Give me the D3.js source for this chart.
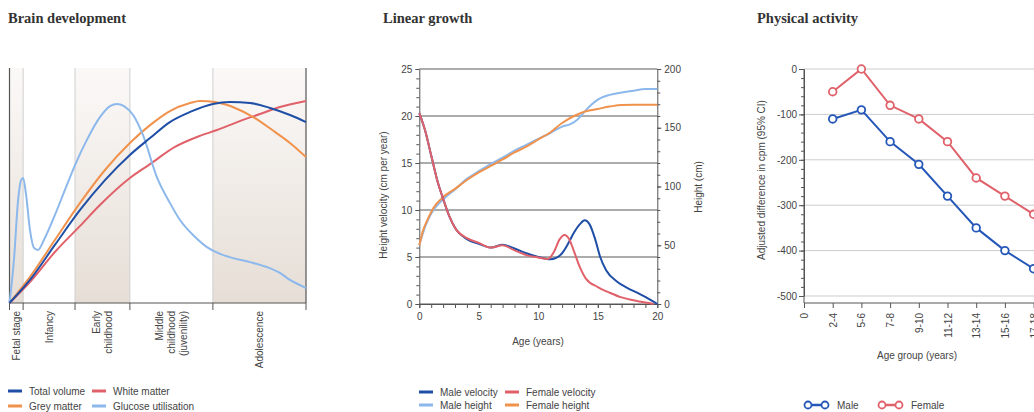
<!DOCTYPE html>
<html lang="en">
<head>
<meta charset="UTF-8">
<title>Child development</title>
<script src="https://d3js.org/d3.v7.min.js"></script>
<style>
  body { margin: 0; background: #fff; }
  svg { display: block; font-family: "Liberation Sans", Arial, sans-serif; }
  .title { font-family: "Liberation Serif", serif; font-weight: bold; font-size: 14.5px; fill: #333; }
  .lbl { font-size: 10px; fill: #444; }
  .axis text { font-family: "Liberation Sans", Arial, sans-serif; font-size: 10px; fill: #444; }
  .axis path, .axis line { stroke: #555; }
</style>
</head>
<body>
<svg width="1034" height="412"></svg>
<script>
// ---- Brain development (relative units, x = share of 0..20 yrs scale) ----
var stageBounds = [0, 4.6, 22.1, 40.6, 68.6, 100];
var stageNames = [["Fetal stage"], ["Infancy"], ["Early", "childhood"], ["Middle", "childhood", "(juvenility)"], ["Adolescence"]];
var stageShaded = [true, false, true, false, true];

var totalX = [0, 6.9, 15.3, 23.8, 32.2, 40.6, 47.4, 54.1, 60.9, 68.6, 74.4, 81.1, 87.9, 94.6, 100];
var totalY = [0, 9.8, 24.7, 39.6, 52.3, 63.0, 70.2, 77.0, 81.3, 84.7, 85.5, 85.1, 83.0, 80.0, 77.0];
var greyX = [0, 6.9, 15.3, 23.8, 32.2, 40.6, 47.4, 54.1, 60.9, 64.2, 69.3, 76.1, 82.8, 89.5, 94.6, 100];
var greyY = [0, 11.1, 26.8, 42.6, 56.6, 68.1, 75.7, 81.7, 85.1, 86.0, 85.5, 83.0, 78.7, 72.8, 68.1, 62.1];
var whiteX = [0, 6.9, 15.3, 23.8, 30.5, 40.6, 47.4, 55.8, 64.2, 70.0, 77.7, 84.5, 91.2, 100];
var whiteY = [0, 8.9, 21.7, 32.8, 41.7, 53.2, 59.1, 66.4, 71.1, 73.6, 77.4, 80.4, 83.4, 86.0];
var glucoseX = [0, 1.5, 2.9, 3.9, 4.6, 5.6, 6.9, 8.3, 9.6, 11.6, 15.3, 18.7, 22.1, 26.1, 30.5, 33.9, 36.3, 38.6, 41.7, 45.0, 49.7, 54.1, 57.5, 62.6, 66.6, 71.0, 75.4, 81.1, 86.8, 91.2, 94.6, 100];
var glucoseY = [0, 18.3, 43.8, 52.3, 53.2, 46.0, 31.1, 23.4, 22.6, 26.8, 37.4, 48.1, 58.7, 69.4, 79.1, 83.8, 84.7, 83.8, 80.0, 71.5, 53.6, 42.6, 35.3, 28.1, 23.8, 20.9, 19.1, 17.4, 15.3, 12.8, 9.8, 6.4];

// ---- Linear growth ----
var maleVelAge = [0, 0.5, 1, 1.5, 2, 2.5, 3, 4, 5, 6, 7, 8, 9, 10, 10.5, 11, 11.5, 12, 12.5, 13, 13.5, 13.9, 14.3, 14.8, 15.2, 15.7, 16.6, 17.5, 18.3, 19.2, 20];
var maleVel = [20.3, 18.4, 15.8, 13.2, 11.2, 9.4, 8.1, 6.9, 6.4, 6.0, 6.3, 5.9, 5.4, 5.0, 4.85, 4.75, 4.9, 5.4, 6.4, 7.6, 8.5, 8.9, 8.5, 6.8, 5.0, 3.6, 2.4, 1.7, 1.2, 0.6, 0];
var femaleVelAge = [0, 0.5, 1, 1.5, 2, 2.5, 3, 4, 5, 6, 7, 8, 9, 10, 10.8, 11.3, 11.8, 12.2, 12.6, 13, 13.5, 14, 15, 16, 17, 18, 19, 19.7];
var femaleVel = [20.3, 18.4, 15.8, 13.2, 11.2, 9.4, 8.1, 7.0, 6.5, 6.0, 6.25, 5.7, 5.2, 4.95, 4.8, 5.5, 6.9, 7.35, 6.9, 5.6, 3.9, 2.7, 1.8, 1.2, 0.7, 0.4, 0.15, 0];
var maleHtAge = [0, 0.5, 1, 2, 3, 4, 5, 6, 7, 8, 9, 10, 11, 12, 12.7, 13.3, 14, 14.5, 15, 16, 17, 18, 19, 20];
var maleHt = [50, 66, 77, 89, 97.5, 106.5, 113, 119, 124.5, 130.5, 135.5, 140.5, 145.5, 151, 153, 157, 165, 170, 174, 178, 180, 181.5, 183, 183];
var femaleHtAge = [0, 0.3, 0.7, 1.2, 2, 3, 4, 5, 6, 7, 8, 9, 10, 11, 12, 13, 14, 15, 16, 17, 18, 19, 20];
var femaleHt = [50, 62, 72, 82, 91, 98, 105.5, 112, 117.5, 123, 129, 134, 140, 146, 154, 160, 164, 166, 168, 169.4, 169.5, 169.5, 169.5];
var velTicks = [0, 5, 10, 15, 20, 25];
var htTicks = [0, 50, 100, 150, 200];
var ageTicks = [0, 5, 10, 15, 20];

// ---- Physical activity ----
var ageGroups = ["0", "2-4", "5-6", "7-8", "9-10", "11-12", "13-14", "15-16", "17-18"];
var maleActivity = [null, -110, -90, -160, -210, -280, -350, -400, -440];
var femaleActivity = [null, -50, 0, -80, -110, -160, -240, -280, -320];
var activityTicks = [0, -100, -200, -300, -400, -500];

var C = { total: "#1f4ea6", white: "#e0616a", grey: "#f0924c", glucose: "#8cb8ec" };

var svg = d3.select("svg");
var defs = svg.append("defs");
var grad = defs.append("linearGradient").attr("id", "shade").attr("x1", 0).attr("y1", 0).attr("x2", 0).attr("y2", 1);
grad.append("stop").attr("offset", "0%").attr("stop-color", "#fbf9f8");
grad.append("stop").attr("offset", "100%").attr("stop-color", "#e6ded6");

function zip(xs, ys) { return xs.map(function(x, i) { return [x, ys[i]]; }); }

// ================= Panel 1 =================
svg.append("text").attr("class", "title").attr("x", 8).attr("y", 23).text("Brain development");
var x1 = d3.scaleLinear().domain([0, 100]).range([9.5, 306]);
var y1 = d3.scaleLinear().domain([0, 100]).range([303, 68]);
var p1 = svg.append("g");

stageNames.forEach(function(name, i) {
  var a = x1(stageBounds[i]), b = x1(stageBounds[i + 1]);
  if (stageShaded[i]) {
    p1.append("rect").attr("x", a).attr("y", y1(100)).attr("width", b - a).attr("height", y1(0) - y1(100)).attr("fill", "url(#shade)");
  }
  var cx = (a + b) / 2, n = name.length;
  var t = p1.append("text").attr("class", "lbl").attr("text-anchor", "end")
    .attr("transform", "translate(" + (cx + 3.5 - (n - 1) * 6) + ",311) rotate(-90)");
  name.forEach(function(s, j) {
    t.append("tspan").attr("x", 0).attr("dy", j ? 12 : 0).text(s);
  });
});
stageBounds.forEach(function(v, i) {
  var edge = (i === 0 || i === stageBounds.length - 1);
  p1.append("line").attr("x1", x1(v)).attr("x2", x1(v)).attr("y1", y1(100)).attr("y2", y1(0))
    .attr("stroke", edge ? "#555" : "#cfcfcf").attr("stroke-width", edge ? 1.2 : 1);
  p1.append("line").attr("x1", x1(v)).attr("x2", x1(v)).attr("y1", y1(0)).attr("y2", y1(0) + 7)
    .attr("stroke", "#555");
});
p1.append("line").attr("x1", x1(0)).attr("x2", x1(100)).attr("y1", y1(0)).attr("y2", y1(0)).attr("stroke", "#555").attr("stroke-width", 1.2);

var line1 = d3.line().x(function(d) { return x1(d[0]); }).y(function(d) { return y1(d[1]); }).curve(d3.curveMonotoneX);
[[whiteX, whiteY, C.white], [greyX, greyY, C.grey], [glucoseX, glucoseY, C.glucose], [totalX, totalY, C.total]].forEach(function(s) {
  p1.append("path").datum(zip(s[0], s[1])).attr("d", line1).attr("fill", "none").attr("stroke", s[2]).attr("stroke-width", 2);
});

function legendLine(g, x, y, color, label, w) {
  g.append("line").attr("x1", x).attr("x2", x + (w || 14)).attr("y1", y).attr("y2", y).attr("stroke", color).attr("stroke-width", 3);
  g.append("text").attr("class", "lbl").attr("x", x + (w || 14) + 7).attr("y", y + 3.5).text(label);
}
legendLine(p1, 8, 391, C.total, "Total volume");
legendLine(p1, 92, 391, C.white, "White matter");
legendLine(p1, 8, 406, C.grey, "Grey matter");
legendLine(p1, 92, 406, C.glucose, "Glucose utilisation");

// ================= Panel 2 =================
svg.append("text").attr("class", "title").attr("x", 383).attr("y", 23).text("Linear growth");
var x2 = d3.scaleLinear().domain([0, 20]).range([419.3, 657.3]);
var yV = d3.scaleLinear().domain([0, 25]).range([304, 69]);
var yH = d3.scaleLinear().domain([0, 200]).range([304, 69]);
var p2 = svg.append("g");

velTicks.forEach(function(v) {
  p2.append("line").attr("x1", x2(0)).attr("x2", x2(20)).attr("y1", yV(v)).attr("y2", yV(v)).attr("stroke", "#5a5a5a").attr("stroke-width", 1.1);
});
p2.append("g").attr("class", "axis").attr("transform", "translate(" + x2(0) + ",0)")
  .call(d3.axisLeft(yV).tickValues(d3.range(0, 26)).tickSize(3).tickFormat("")).select(".domain").remove();
p2.append("g").attr("class", "axis").attr("transform", "translate(" + x2(0) + ",0)")
  .call(d3.axisLeft(yV).tickValues(velTicks).tickSize(4).tickSizeOuter(0).tickPadding(3));
p2.append("g").attr("class", "axis").attr("transform", "translate(" + x2(20) + ",0)")
  .call(d3.axisRight(yH).tickValues(d3.range(0, 201, 10)).tickSize(3).tickFormat("")).select(".domain").remove();
p2.append("g").attr("class", "axis").attr("transform", "translate(" + x2(20) + ",0)")
  .call(d3.axisRight(yH).tickValues(htTicks).tickSize(4).tickSizeOuter(0).tickPadding(3));
p2.append("g").attr("class", "axis").attr("transform", "translate(0," + yV(0) + ")")
  .call(d3.axisBottom(x2).tickValues(d3.range(0, 21)).tickSize(4).tickFormat("")).select(".domain").remove();
p2.append("g").attr("class", "axis").attr("transform", "translate(0," + yV(0) + ")")
  .call(d3.axisBottom(x2).tickValues(ageTicks).tickSize(4).tickSizeOuter(0).tickPadding(5));

p2.append("text").attr("class", "lbl").attr("text-anchor", "middle").attr("x", 538).attr("y", 345).text("Age (years)");
p2.append("text").attr("class", "lbl").attr("text-anchor", "middle").attr("transform", "translate(387,195) rotate(-90)").text("Height velocity (cm per year)");
p2.append("text").attr("class", "lbl").attr("text-anchor", "middle").attr("transform", "translate(702,187) rotate(-90)").text("Height (cm)");

var lineV = d3.line().x(function(d) { return x2(d[0]); }).y(function(d) { return yV(d[1]); }).curve(d3.curveMonotoneX);
var lineH = d3.line().x(function(d) { return x2(d[0]); }).y(function(d) { return yH(d[1]); }).curve(d3.curveMonotoneX);
p2.append("path").datum(zip(maleHtAge, maleHt)).attr("d", lineH).attr("fill", "none").attr("stroke", C.glucose).attr("stroke-width", 2);
p2.append("path").datum(zip(femaleHtAge, femaleHt)).attr("d", lineH).attr("fill", "none").attr("stroke", C.grey).attr("stroke-width", 2);
p2.append("path").datum(zip(maleVelAge, maleVel)).attr("d", lineV).attr("fill", "none").attr("stroke", C.total).attr("stroke-width", 2);
p2.append("path").datum(zip(femaleVelAge, femaleVel)).attr("d", lineV).attr("fill", "none").attr("stroke", C.white).attr("stroke-width", 2);

legendLine(p2, 419, 392, C.total, "Male velocity");
legendLine(p2, 505, 392, C.white, "Female velocity");
legendLine(p2, 419, 405, C.glucose, "Male height");
legendLine(p2, 505, 405, C.grey, "Female height");

// ================= Panel 3 =================
svg.append("text").attr("class", "title").attr("x", 757).attr("y", 23).text("Physical activity");
var x3 = d3.scalePoint().domain(ageGroups).range([804, 804 + 8 * 28.7]);
var y3 = d3.scaleLinear().domain([-500, 0]).range([296, 69]);
var p3 = svg.append("g");

activityTicks.forEach(function(v) {
  p3.append("line").attr("x1", 804).attr("x2", 1034).attr("y1", y3(v)).attr("y2", y3(v)).attr("stroke", "#cccccc");
});
p3.append("g").attr("class", "axis").attr("transform", "translate(804,0)")
  .call(d3.axisLeft(y3).tickValues(d3.range(-500, 1, 20)).tickSize(3).tickFormat("")).select(".domain").remove();
p3.append("g").attr("class", "axis").attr("transform", "translate(804,0)")
  .call(d3.axisLeft(y3).tickValues(activityTicks).tickSize(5).tickSizeOuter(0).tickPadding(2)
    .tickFormat(function(d) { return String(d); }));
p3.append("line").attr("x1", 804).attr("x2", 804).attr("y1", y3(0)).attr("y2", 303).attr("stroke", "#555");
var xa = p3.append("g").attr("class", "axis").attr("transform", "translate(0,303)")
  .call(d3.axisBottom(x3).tickSize(5).tickSizeOuter(0));
xa.select(".domain").attr("d", "M804,0H1034");
xa.selectAll(".tick text").attr("text-anchor", "end").attr("transform", "rotate(-90)")
  .attr("x", -10).attr("y", 0).attr("dy", "0.35em");

p3.append("text").attr("class", "lbl").attr("text-anchor", "middle").attr("x", 917).attr("y", 359).text("Age group (years)");
p3.append("text").attr("class", "lbl").attr("text-anchor", "middle").attr("transform", "translate(765,180) rotate(-90)").text("Adjusted difference in cpm (95% CI)");

function series(vals, color) {
  var pts = ageGroups.map(function(g, i) { return [g, vals[i]]; }).filter(function(d) { return d[1] !== null; });
  var ln = d3.line().x(function(d) { return x3(d[0]); }).y(function(d) { return y3(d[1]); });
  p3.append("path").datum(pts).attr("d", ln).attr("fill", "none").attr("stroke", color).attr("stroke-width", 2);
  p3.selectAll(null).data(pts).enter().append("circle")
    .attr("cx", function(d) { return x3(d[0]); }).attr("cy", function(d) { return y3(d[1]); })
    .attr("r", 3.8).attr("fill", "#fff").attr("stroke", color).attr("stroke-width", 1.8);
}
series(femaleActivity, C.white);
series(maleActivity, "#2457b8");

function legendMarker(x, y, color, label) {
  p3.append("line").attr("x1", x).attr("x2", x + 17).attr("y1", y).attr("y2", y).attr("stroke", color).attr("stroke-width", 2.5);
  [x, x + 17].forEach(function(cx) {
    p3.append("circle").attr("cx", cx).attr("cy", y).attr("r", 3.5).attr("fill", "#fff").attr("stroke", color).attr("stroke-width", 1.8);
  });
  p3.append("text").attr("class", "lbl").attr("x", x + 29).attr("y", y + 3.5).text(label);
}
legendMarker(808, 405, "#2457b8", "Male");
legendMarker(882, 405, C.white, "Female");
</script>
</body>
</html>
